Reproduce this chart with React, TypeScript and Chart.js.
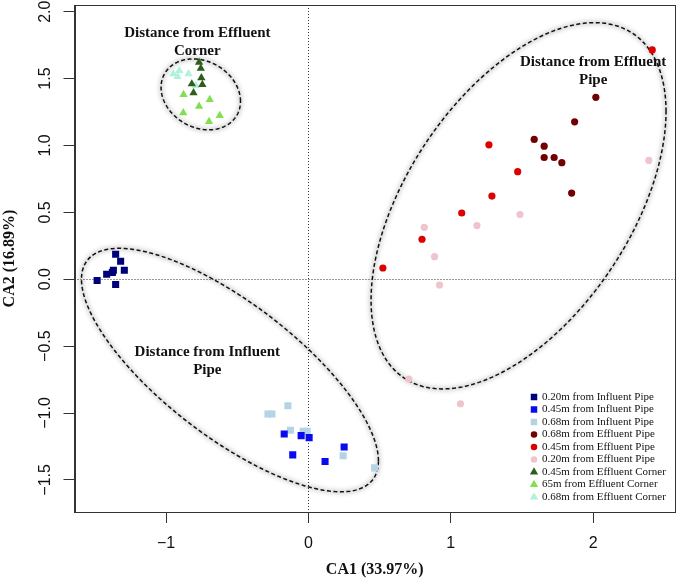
import React, { useEffect, useRef } from 'react';
import { Chart, registerables } from 'chart.js';
Chart.register(...registerables);

// ---- data (CA1, CA2) ----
const influent020: [number, number][] = [
  [-1.354, 0.187], [-1.319, 0.134], [-1.417, 0.037], [-1.377, 0.05],
  [-1.37, 0.067], [-1.293, 0.067], [-1.484, -0.01], [-1.354, -0.04],
];
const influent045: [number, number][] = [
  [-0.17, -1.157], [-0.051, -1.169], [0.005, -1.184], [-0.11, -1.313],
  [0.251, -1.254], [0.117, -1.363],
];
const influent068: [number, number][] = [
  [-0.144, -0.946], [-0.284, -1.007], [-0.256, -1.007], [-0.126, -1.129],
  [-0.037, -1.137], [-0.009, -1.137], [0.244, -1.319], [0.465, -1.41],
];
const effluent068: [number, number][] = [
  [2.019, 1.36], [1.87, 1.177], [1.586, 1.045], [1.656, 0.995],
  [1.656, 0.91], [1.726, 0.91], [1.78, 0.871], [1.849, 0.644],
];
const effluent045: [number, number][] = [
  [2.415, 1.714], [1.268, 1.005], [1.47, 0.804], [1.289, 0.622],
  [1.077, 0.495], [0.798, 0.299], [0.523, 0.084],
];
const effluent020: [number, number][] = [
  [2.391, 0.888], [1.486, 0.483], [0.814, 0.388], [1.184, 0.401],
  [0.886, 0.169], [0.921, -0.043], [0.705, -0.746], [1.068, -0.931],
];
const corner045: [number, number][] = [
  [-0.768, 1.622], [-0.756, 1.577], [-0.752, 1.505], [-0.819, 1.46],
  [-0.745, 1.455], [-0.807, 1.393],
];
const corner065: [number, number][] = [
  [-0.877, 1.381], [-0.693, 1.343], [-0.768, 1.293], [-0.879, 1.244],
  [-0.623, 1.224], [-0.698, 1.179],
];
const corner068: [number, number][] = [
  [-0.949, 1.535], [-0.907, 1.56], [-0.842, 1.535], [-0.919, 1.515],
  [-0.791, 1.448],
];

const seriesLabels = [
  '0.20m from Influent Pipe', '0.45m from Influent Pipe', '0.68m from Influent Pipe',
  '0.68m from Effluent Pipe', '0.45m from Effluent Pipe', '0.20m from Effluent Pipe',
  '0.45m from Effluent Corner', '65m from Effluent Corner', '0.68m from Effluent Corner',
];
const seriesData = [influent020, influent045, influent068, effluent068, effluent045, effluent020, corner045, corner065, corner068];
const seriesColors = ['#00007A', '#0A0AF0', '#B4D4E6', '#730000', '#DC0000', '#F0C4CC', '#2E5E1C', '#82E050', '#B0F2DA'];
const seriesShapes = ['rect', 'rect', 'rect', 'circle', 'circle', 'circle', 'triangle', 'triangle', 'triangle'];

const xTicks = [-1, 0, 1, 2];
const yTicks = [-1.5, -1.0, -0.5, 0.0, 0.5, 1.0, 1.5, 2.0];
const xRange = [-1.643, 2.575];
const yRange = [-1.74, 2.05];
const xTitle = 'CA1 (33.97%)';
const yTitle = 'CA2 (16.89%)';

// group ellipses: centre, x half-extent, y half-extent, y-offset at rightmost point (data units)
const ellipses = [
  { cx: -0.756, cy: 1.382, rx: 0.279, ry: 0.265, k: -0.052 },
  { cx: -0.551, cy: -0.679, rx: 1.043, ry: 0.91, k: -0.679 },
  { cx: 1.476, cy: 0.549, rx: 1.036, ry: 1.369, k: 0.705 },
];
const groupLabels = [
  { x: -0.78, y: 1.84, lines: ['Distance from Effluent', 'Corner'] },
  { x: 2.0, y: 1.62, lines: ['Distance from Effluent', 'Pipe'] },
  { x: -0.71, y: -0.545, lines: ['Distance from Influent', 'Pipe'] },
];

const fmtNum = (v: number, d: number) => (v < 0 ? '\u2212' : '') + Math.abs(v).toFixed(d);

function drawMarker(ctx: CanvasRenderingContext2D, shape: string, x: number, y: number, s: number) {
  ctx.beginPath();
  if (shape === 'rect') {
    ctx.rect(x - s / 2, y - s / 2, s, s);
  } else if (shape === 'circle') {
    ctx.arc(x, y, s / 2, 0, Math.PI * 2);
  } else {
    const r = s * 0.6;
    ctx.moveTo(x, y - r);
    ctx.lineTo(x + r * 0.866, y + r * 0.5);
    ctx.lineTo(x - r * 0.866, y + r * 0.5);
    ctx.closePath();
  }
  ctx.fill();
}

const zeroPad = (s: any) => {
  s.paddingLeft = 0; s.paddingRight = 0; s.paddingTop = 0; s.paddingBottom = 0;
};

const overlayPlugin = {
  id: 'overlay',
  beforeDatasetsDraw(chart: any) {
    const { ctx, chartArea: a, scales } = chart;
    const xs = scales.x, ys = scales.y;
    ctx.save();
    ctx.strokeStyle = '#333';
    ctx.lineWidth = 1;
    ctx.setLineDash([1, 2]);
    const x0 = Math.round(xs.getPixelForValue(0)) + 0.5;
    const y0 = Math.round(ys.getPixelForValue(0)) + 0.5;
    ctx.beginPath();
    ctx.moveTo(a.left, y0); ctx.lineTo(a.right, y0);
    ctx.moveTo(x0, a.top); ctx.lineTo(x0, a.bottom);
    ctx.stroke();
    for (const e of ellipses) {
      const s = Math.sqrt(e.ry * e.ry - e.k * e.k);
      const path = new Path2D();
      const n = 240;
      for (let i = 0; i <= n; i++) {
        const t = (i / n) * Math.PI * 2;
        const px = xs.getPixelForValue(e.cx + e.rx * Math.cos(t));
        const py = ys.getPixelForValue(e.cy + e.k * Math.cos(t) + s * Math.sin(t));
        if (i === 0) path.moveTo(px, py); else path.lineTo(px, py);
      }
      path.closePath();
      ctx.save();
      ctx.setLineDash([]);
      ctx.filter = 'blur(2px)';
      ctx.strokeStyle = 'rgba(0,0,0,0.18)';
      ctx.lineWidth = 4;
      ctx.stroke(path);
      ctx.restore();
      ctx.setLineDash([4, 2.5]);
      ctx.strokeStyle = '#111';
      ctx.lineWidth = 1.5;
      ctx.stroke(path);
    }
    ctx.restore();
  },
  afterDraw(chart: any) {
    const { ctx, chartArea: a, scales } = chart;
    const xs = scales.x, ys = scales.y;
    ctx.save();
    // frame
    ctx.strokeStyle = '#333';
    ctx.lineWidth = 1;
    ctx.strokeRect(Math.round(a.left) + 0.5, Math.round(a.top) + 0.5, Math.round(a.width) - 1, Math.round(a.height));
    // y tick labels (rotated, R style)
    ctx.fillStyle = '#111';
    ctx.font = '16px "Liberation Sans", Arial, sans-serif';
    ctx.textAlign = 'center';
    ctx.textBaseline = 'middle';
    for (const v of yTicks) {
      const py = ys.getPixelForValue(v);
      ctx.save();
      ctx.translate(a.left - 29, py);
      ctx.rotate(-Math.PI / 2);
      ctx.fillText(fmtNum(v, 1), 0, 0);
      ctx.restore();
    }
    // group labels
    ctx.font = 'bold 15px "Liberation Serif", "Times New Roman", serif';
    ctx.fillStyle = '#111';
    for (const g of groupLabels) {
      const px = xs.getPixelForValue(g.x);
      const py = ys.getPixelForValue(g.y);
      g.lines.forEach((ln, i) => ctx.fillText(ln, px, py + i * 18));
    }
    // legend
    const lx = a.right - 141;
    const ly0 = a.bottom - 115;
    ctx.font = '11px "Liberation Serif", "Times New Roman", serif';
    ctx.textAlign = 'left';
    chart.data.datasets.forEach((ds: any, i: number) => {
      const yy = ly0 + i * 12.5;
      ctx.fillStyle = seriesColors[i];
      const sh = seriesShapes[i];
      drawMarker(ctx, sh, lx, yy, sh === 'triangle' ? 8 : 6.5);
      ctx.fillStyle = '#111';
      ctx.fillText(ds.label, lx + 8, yy);
    });
    ctx.restore();
  },
};

export default function App() {
  const ref = useRef<HTMLCanvasElement>(null);
  useEffect(() => {
    if (!ref.current) return;
    const datasets = seriesData.map((arr, i) => ({
      label: seriesLabels[i],
      data: arr.map(([x, y]) => ({ x, y })),
      pointStyle: seriesShapes[i],
      pointRadius: seriesShapes[i] === 'rect' ? 5 : seriesShapes[i] === 'circle' ? 3.6 : 4.8,
      backgroundColor: seriesColors[i],
      borderColor: seriesColors[i],
      borderWidth: 0,
      showLine: false,
    }));
    const chart = new Chart(ref.current, {
      type: 'scatter',
      data: { datasets },
      plugins: [overlayPlugin],
      options: {
        responsive: false,
        animation: false,
        layout: { padding: { left: 0, right: 1, top: 4, bottom: 0 } },
        plugins: { legend: { display: false }, tooltip: { enabled: false } },
        scales: {
          x: {
            type: 'linear',
            min: xRange[0],
            max: xRange[1],
            afterBuildTicks: (s: any) => { s.ticks = xTicks.map((v) => ({ value: v })); },
            afterFit: (s: any) => { s.height = 67; zeroPad(s); },
            grid: { drawOnChartArea: false, drawTicks: true, tickLength: 11, color: '#333' },
            border: { display: true, color: '#333' },
            ticks: {
              color: '#111',
              padding: 11,
              maxRotation: 0,
              font: { family: '"Liberation Sans", Arial, sans-serif', size: 16 },
              callback: (v: any) => fmtNum(Number(v), 0),
            },
            title: {
              display: true,
              text: xTitle,
              color: '#111',
              padding: 0,
              font: { family: '"Liberation Serif", "Times New Roman", serif', size: 16, weight: 'bold' },
            },
          },
          y: {
            type: 'linear',
            min: yRange[0],
            max: yRange[1],
            afterBuildTicks: (s: any) => { s.ticks = yTicks.map((v) => ({ value: v })); },
            afterFit: (s: any) => { s.width = 74.5; zeroPad(s); },
            grid: { drawOnChartArea: false, drawTicks: true, tickLength: 11, color: '#333' },
            border: { display: true, color: '#333' },
            ticks: { display: false },
            title: {
              display: true,
              text: yTitle,
              color: '#111',
              padding: 0,
              font: { family: '"Liberation Serif", "Times New Roman", serif', size: 16, weight: 'bold' },
            },
          },
        },
      } as any,
    });
    return () => chart.destroy();
  }, []);
  return (
    <div style={{ position: 'fixed', left: 0, top: 0, width: 680, height: 579, background: '#fff' }}>
      <canvas ref={ref} width={680} height={579} style={{ display: 'block' }} />
    </div>
  );
}
